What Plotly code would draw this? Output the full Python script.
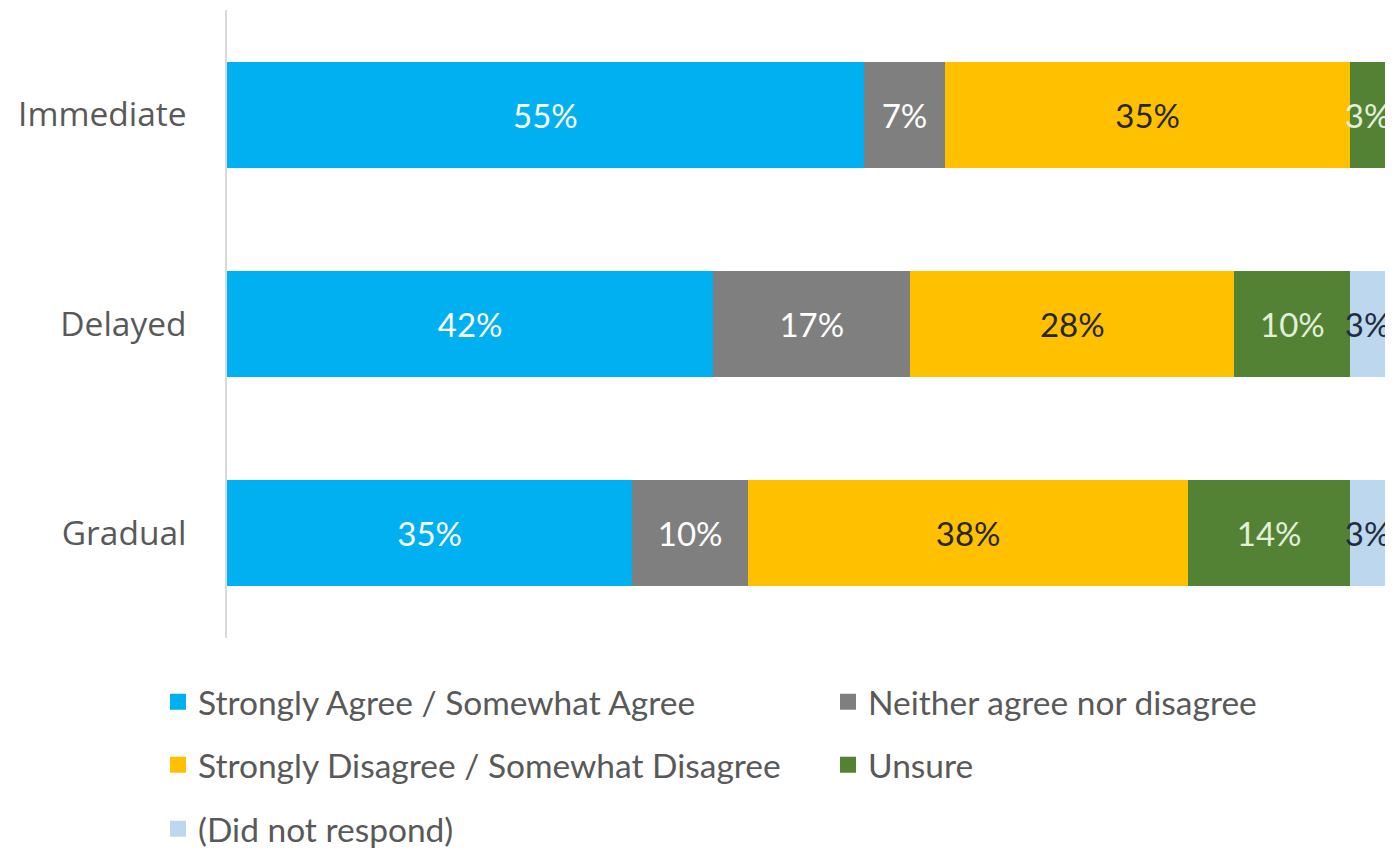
import plotly.graph_objects as go

# Survey responses by timing of implementation (percent of respondents)
categories = ["Immediate", "Delayed", "Gradual"]

agree = [55, 42, 35]
neither = [7, 17, 10]
disagree = [35, 28, 38]
unsure = [3, 10, 14]
no_response = [None, 3, 3]

series_names = [
    "Strongly Agree / Somewhat Agree",
    "Neither agree nor disagree",
    "Strongly Disagree / Somewhat Disagree",
    "Unsure",
    "(Did not respond)",
]
series_values = [agree, neither, disagree, unsure, no_response]
series_colors = ["#00B0F0", "#7F7F7F", "#FFC000", "#548235", "#BDD7EE"]
label_colors = ["#FFFFFF", "#FFFFFF", "#262626", "#E2F0D9", "#1F2D3D"]
legend_slots = ["legend", "legend", "legend2", "legend2", "legend3"]

LABEL_FONT = "Lato, 'Open Sans', sans-serif"

fig = go.Figure()
for name, vals, col, tcol in zip(series_names, series_values, series_colors,
                                 label_colors):
    fig.add_trace(go.Bar(
        name=name,
        y=categories,
        x=vals,
        orientation="h",
        marker=dict(color=col, line=dict(width=0)),
        text=[f"{v}%" if v is not None else "" for v in vals],
        texttemplate="%{text}",
        textposition="inside",
        insidetextanchor="middle",
        textangle=0,
        constraintext="none",
        textfont=dict(family=LABEL_FONT, size=33, color=tcol),
        legendgroup=name,
        showlegend=False,
        hoverinfo="skip",
    ))

# Legend keys: larger square swatches than the default bar key
for name, col, lg in zip(series_names, series_colors, legend_slots):
    fig.add_trace(go.Scatter(
        name=name,
        x=[None],
        y=[None],
        mode="markers",
        marker=dict(symbol="square", size=16, color=col, line=dict(width=0)),
        legendgroup=name,
        legend=lg,
        showlegend=True,
        hoverinfo="skip",
    ))

H_PLOT = 628.0


def row_y(px):
    return (638 - px) / H_PLOT


legend_common = dict(
    orientation="h",
    entrywidth=625,
    entrywidthmode="pixels",
    xanchor="left",
    yanchor="middle",
    x=(158 - 227) / 1158.0,
    font=dict(family=LABEL_FONT, size=33.5, color="#595959"),
    bgcolor="rgba(0,0,0,0)",
    borderwidth=0,
    traceorder="normal",
    itemclick=False,
    itemdoubleclick=False,
)

fig.update_layout(
    width=1395,
    height=851,
    margin=dict(l=227, r=10, t=10, b=213, autoexpand=False),
    barmode="stack",
    bargap=0.495,
    plot_bgcolor="white",
    paper_bgcolor="white",
    showlegend=True,
    legend=dict(legend_common, y=row_y(702)),
    legend2=dict(legend_common, y=row_y(765)),
    legend3=dict(legend_common, y=row_y(829)),
    xaxis=dict(visible=False, range=[0, 100], fixedrange=True),
    yaxis=dict(
        categoryorder="array",
        categoryarray=categories,
        autorange="reversed",
        showline=True,
        linecolor="#D9D9D9",
        linewidth=1.5,
        showgrid=False,
        zeroline=False,
        ticks="",
        ticklabelstandoff=32,
        tickfont=dict(family="'Open Sans', sans-serif", size=33.5, color="#595959"),
    ),
)

fig.write_html("out.html")
